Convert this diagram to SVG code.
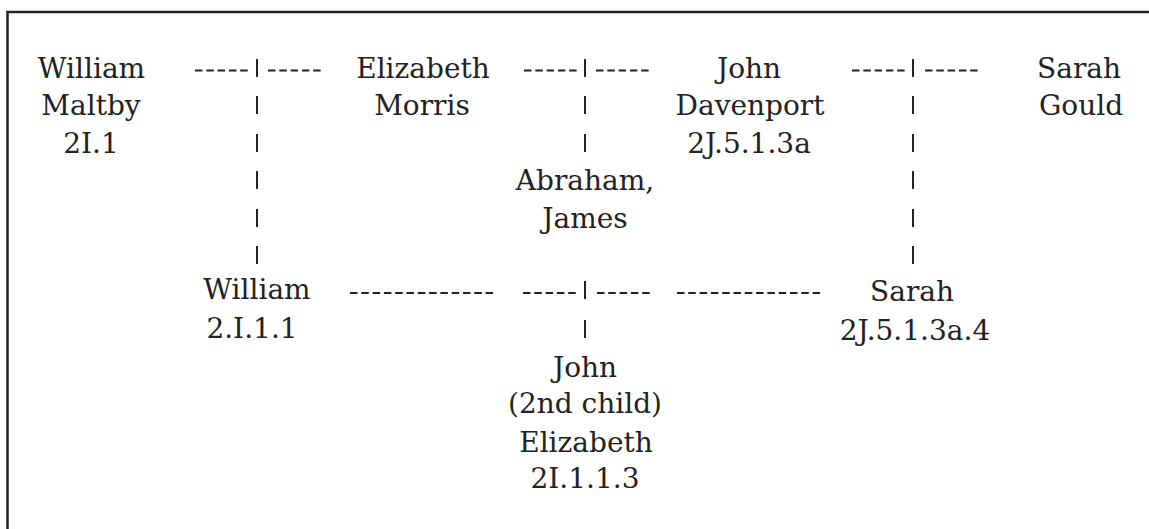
<svg xmlns="http://www.w3.org/2000/svg" width="1149" height="529" viewBox="0 0 1149 529">
<style>
text{font-family:"DejaVu Serif","Liberation Serif",serif;font-size:28px;fill:#222;text-anchor:middle}
.dash{stroke:#222;stroke-width:2;stroke-dasharray:7.5 3.8;fill:none}
.pipe{stroke:#222;stroke-width:2;fill:none}
.frame{stroke:#222;stroke-width:2.5;fill:none}
</style>
<rect width="1149" height="529" fill="#fff"/>
<path class="frame" d="M7.5,529 V12 H1149"/>
<g id="connectors">
<!-- marriage William - Elizabeth -->
<line class="dash" x1="195" y1="70.5" x2="248" y2="70.5"/>
<line class="dash" x1="268" y1="70.5" x2="321" y2="70.5"/>
<path class="pipe" d="M257,59V77 M257,96V114 M257,134V152 M257,171V189 M257,209V227 M257,246V264"/>
<!-- marriage Elizabeth - John -->
<line class="dash" x1="524" y1="70.5" x2="577" y2="70.5"/>
<line class="dash" x1="596" y1="70.5" x2="649" y2="70.5"/>
<path class="pipe" d="M585,59V77 M585,96V114 M585,134V152"/>
<!-- marriage John - Sarah -->
<line class="dash" x1="852" y1="70.5" x2="905" y2="70.5"/>
<line class="dash" x1="925" y1="70.5" x2="978" y2="70.5"/>
<path class="pipe" d="M913,59V77 M913,96V114 M913,134V152 M913,171V189 M913,209V227 M913,246V264"/>
<!-- marriage William - Sarah -->
<line class="dash" x1="350" y1="293" x2="495" y2="293"/>
<line class="dash" x1="523" y1="293" x2="576" y2="293"/>
<line class="dash" x1="597" y1="293" x2="650" y2="293"/>
<line class="dash" x1="677" y1="293" x2="822" y2="293"/>
<path class="pipe" d="M585,281V299 M585,320V338"/>
</g>
<g id="william-maltby">
<text x="91.5" y="78">William</text>
<text x="91" y="115">Maltby</text>
<text x="91" y="153">2I.1</text>
</g>
<g id="elizabeth-morris">
<text x="423" y="78">Elizabeth</text>
<text x="422" y="115">Morris</text>
</g>
<g id="john-davenport">
<text x="749" y="78">John</text>
<text x="750" y="115">Davenport</text>
<text x="749" y="153">2J.5.1.3a</text>
</g>
<g id="sarah-gould">
<text x="1079" y="78">Sarah</text>
<text x="1081" y="115">Gould</text>
</g>
<g id="abraham-james">
<text x="585" y="190">Abraham,</text>
<text x="585" y="228">James</text>
</g>
<g id="william-2I11">
<text x="257" y="299">William</text>
<text x="252" y="338">2.I.1.1</text>
</g>
<g id="sarah-2J513a4">
<text x="912" y="301">Sarah</text>
<text x="915" y="340">2J.5.1.3a.4</text>
</g>
<g id="john-elizabeth">
<text x="585" y="377">John</text>
<text x="585" y="413">(2nd child)</text>
<text x="586" y="452">Elizabeth</text>
<text x="585" y="488">2I.1.1.3</text>
</g>
</svg>
